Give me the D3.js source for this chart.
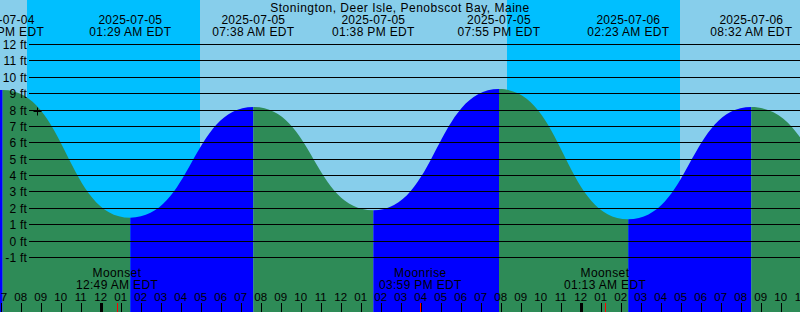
<!DOCTYPE html>
<html><head><meta charset="utf-8">
<script src="https://cdn.jsdelivr.net/npm/d3@7"></script>
<style>html,body{margin:0;padding:0;background:#87CEEB;overflow:hidden}svg{display:block}</style>
</head><body>
<script>
const title = "Stonington, Deer Isle, Penobscot Bay, Maine";
// tide extremes (EDT)
const tideTimes = ["2025-07-04T12:55","2025-07-04T19:06","2025-07-05T01:29","2025-07-05T07:38","2025-07-05T13:38","2025-07-05T19:55","2025-07-06T02:23","2025-07-06T08:32","2025-07-06T14:45"];
const tideHeights = [1.9, 9.2, 1.4, 8.15, 1.85, 9.25, 1.3, 8.15, 1.9];
const tideLabelDates = ["2025-07-04","2025-07-05","2025-07-05","2025-07-05","2025-07-05","2025-07-06","2025-07-06"];
const tideLabelTimes = ["07:06 PM EDT","01:29 AM EDT","07:38 AM EDT","01:38 PM EDT","07:55 PM EDT","02:23 AM EDT","08:32 AM EDT"];
// sun
const nightStarts = ["2025-07-04T20:19","2025-07-05T20:19"];
const nightEnds = ["2025-07-05T04:58","2025-07-06T04:58"];
// moon
const moonTimes = ["2025-07-05T00:49","2025-07-05T15:59","2025-07-06T01:13"];
const moonNames = ["Moonset","Moonrise","Moonset"];
const moonLabels = ["12:49 AM EDT","03:59 PM EDT","01:13 AM EDT"];
// current marker
const nowTime = "2025-07-04T20:50";
const nowHeight = 7.9;
const yTicks = [-1,0,1,2,3,4,5,6,7,8,9,10,11,12];
const domainStart = "2025-07-04T18:58", domainEnd = "2025-07-06T10:58";

const W = 800, H = 312;
const P = s => new Date(s + ":00Z");
const font = "'Liberation Sans', Arial, sans-serif";
const x = d3.scaleUtc().domain([P(domainStart), P(domainEnd)]).range([0, W]);
const y = d3.scaleLinear().domain([-1, 12]).range([257, 44]);

const svg = d3.select("body").append("svg").attr("width", W).attr("height", H)
  .style("font-family", font);

// sky
svg.append("rect").attr("width", W).attr("height", H).attr("fill", "#87CEEB");
svg.selectAll("rect.night").data(nightStarts).join("rect").attr("class","night")
  .attr("x", (d) => x(P(d)))
  .attr("width", (d,i) => x(P(nightEnds[i])) - x(P(d)))
  .attr("y", 0).attr("height", H).attr("fill", "#00BFFF");

// tide areas
const pts = tideTimes.map((t,i) => ({t: P(t), h: tideHeights[i]}));
const area = d3.area().x(d => x(d.t)).y0(H).y1(d => y(d.h)).curve(d3.curveBumpX);
for (let i = 0; i < pts.length - 1; i++) {
  const seg = [pts[i], pts[i+1]];
  svg.append("path").attr("d", area(seg))
    .attr("fill", pts[i+1].h > pts[i].h ? "#0000FF" : "#2E8B57");
}

// grid lines
svg.selectAll("line.grid").data(yTicks).join("line").attr("class","grid")
  .attr("x1", 29).attr("x2", W)
  .attr("y1", d => Math.round(y(d)) + 0.5).attr("y2", d => Math.round(y(d)) + 0.5)
  .attr("stroke", "#000").attr("stroke-width", 1);
svg.selectAll("text.ylab").data(yTicks).join("text").attr("class","ylab")
  .attr("x", 27).attr("y", d => Math.round(y(d)) + 5)
  .attr("text-anchor", "end").attr("font-size", 12).attr("letter-spacing", 0.2).text(d => d + " ft");

// title
svg.append("text").attr("x", 400).attr("y", 11.5).attr("text-anchor","middle")
  .attr("font-size", 12).attr("letter-spacing", 0.5).text(title);

// tide labels (extremes in view)
const visible = pts.filter(p => x(p.t) > -60 && x(p.t) < W + 60);
visible.forEach((p, i) => {
  const g = svg.append("g").attr("transform", `translate(${x(p.t)},0)`);
  g.append("text").attr("y", 23.5).attr("text-anchor","middle").attr("font-size", 12).attr("letter-spacing", 0.25).text(tideLabelDates[i]);
  g.append("text").attr("y", 35.5).attr("text-anchor","middle").attr("font-size", 12).attr("letter-spacing", 0.35).text(tideLabelTimes[i]);
});

// current marker
const nx = Math.round(x(P(nowTime))) + 0.5, ny = Math.round(y(nowHeight)) + 0.5;
svg.append("path")
  .attr("d", d3.line()([[nx - 4, ny], [nx + 4, ny]]) + d3.line()([[nx, ny - 4], [nx, ny + 4]]))
  .attr("stroke", "#000").attr("stroke-width", 1);

// hour ticks & labels
const hours = d3.utcHour.range(x.domain()[0], d3.utcHour.offset(x.domain()[1], 1));
svg.selectAll("line.htick").data(hours).join("line").attr("class","htick")
  .attr("x1", d => Math.round(x(d)) + 0.5).attr("x2", d => Math.round(x(d)) + 0.5)
  .attr("y1", 303).attr("y2", H)
  .attr("stroke", "#000").attr("stroke-width", d => d.getUTCHours() === 0 ? 3 : 1);
svg.selectAll("text.hlab").data(hours).join("text").attr("class","hlab")
  .attr("x", d => x(d)).attr("y", 300.5).attr("text-anchor","middle").attr("font-size", 11.5)
  .text(d => d3.utcFormat("%I")(d));

// moon
moonTimes.forEach((t, i) => {
  const mx = x(P(t));
  svg.append("line").attr("x1", Math.round(mx) + 0.5).attr("x2", Math.round(mx) + 0.5)
    .attr("y1", 303).attr("y2", H).attr("stroke", "#FF0000").attr("stroke-width", 1);
  svg.append("text").attr("x", mx).attr("y", 277).attr("text-anchor","middle").attr("font-size", 12).attr("letter-spacing", 0.4).text(moonNames[i]);
  svg.append("text").attr("x", mx).attr("y", 289).attr("text-anchor","middle").attr("font-size", 12).attr("letter-spacing", 0.35).text(moonLabels[i]);
});
</script>
</body></html>
